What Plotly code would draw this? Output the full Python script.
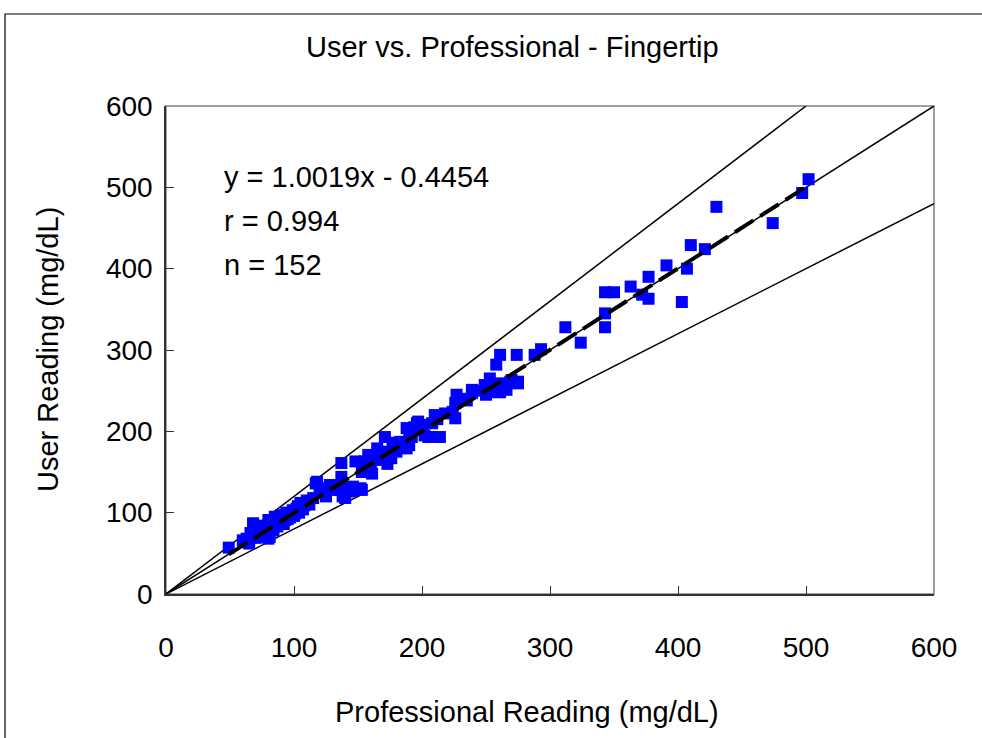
import plotly.graph_objects as go

# Professional (x) vs User (y) readings, mg/dL
prof = [49, 60, 62, 63, 65, 66, 68, 68, 70, 72, 73, 74, 75, 76, 77, 78, 80, 80, 81, 82,
        83, 84, 85, 86, 87, 88, 90, 91, 92, 93, 94, 95, 96, 97, 99, 100, 101, 102, 103, 104,
        105, 107, 108, 110, 110, 112, 115, 117, 118, 120, 122, 125, 128, 130, 133, 136, 137, 137, 138, 140,
        142, 144, 146, 148, 150, 152, 153, 153, 155, 156, 158, 160, 161, 163, 165, 166, 168, 170, 171, 171,
        173, 175, 176, 177, 178, 180, 183, 184, 185, 188, 188, 190, 190, 192, 194, 196, 197, 200, 202, 205,
        208, 210, 212, 214, 218, 224, 226, 226, 227, 230, 235, 239, 239, 245, 249, 250, 252, 253, 255, 258,
        258, 261, 261, 261, 263, 266, 269, 270, 274, 275, 275, 288, 293, 312, 324, 343, 343, 343, 350, 363,
        372, 377, 377, 391, 403, 407, 410, 421, 430, 474, 497, 502]
user = [57, 66, 64, 68, 62, 75, 87, 72, 69, 78, 80, 82, 72, 70, 84, 75, 91, 68, 70, 88,
        80, 78, 95, 85, 83, 90, 97, 88, 86, 91, 100, 92, 98, 94, 103, 96, 99, 105, 108, 100,
        112, 104, 109, 115, 112, 110, 118, 136, 138, 124, 130, 120, 134, 132, 128, 128, 144, 161, 120, 118,
        130, 126, 132, 163, 128, 130, 150, 128, 163, 160, 171, 157, 148, 165, 179, 170, 172, 165, 193, 175,
        160, 168, 167, 181, 186, 175, 187, 187, 180, 204, 179, 183, 200, 193, 205, 210, 212, 208, 195, 193,
        210, 220, 215, 193, 222, 224, 216, 235, 245, 240, 238, 251, 247, 250, 257, 245, 248, 265, 255, 282,
        252, 294, 259, 248, 255, 251, 261, 263, 294, 259, 261, 294, 301, 328, 309, 345, 328, 371, 371, 378,
        368, 363, 390, 404, 359, 400, 429, 424, 476, 456, 493, 510]

slope = 1.0019
intercept = -0.4454
r_value = 0.994
n_value = 152

axis_ticks = [0, 100, 200, 300, 400, 500, 600]

FONT = "Liberation Sans, Arial, sans-serif"
TXT = 29
TICK = 28

fig = go.Figure()

# reference lines: y = 1.2x, y = x, y = 0.8x
fig.add_trace(go.Scatter(x=[0, 500], y=[0, 1.2 * 500], mode="lines",
                         line=dict(color="black", width=1.5), hoverinfo="skip"))
fig.add_trace(go.Scatter(x=[0, 600], y=[0, 600], mode="lines",
                         line=dict(color="black", width=1.5), hoverinfo="skip"))
fig.add_trace(go.Scatter(x=[0, 600], y=[0, 0.8 * 600], mode="lines",
                         line=dict(color="black", width=1.5), hoverinfo="skip"))

# data
fig.add_trace(go.Scatter(x=prof, y=user, mode="markers",
                         marker=dict(symbol="square", size=12, color="#0000FF",
                                     line=dict(width=0))))

# regression line
rx = [min(prof), max(prof)]
ry = [slope * v + intercept for v in rx]
fig.add_trace(go.Scatter(x=rx, y=ry, mode="lines",
                         line=dict(color="black", width=4, dash="22px,8px"), hoverinfo="skip"))

fig.update_layout(
    width=982, height=738,
    margin=dict(l=166, r=48, t=106, b=144),
    paper_bgcolor="white", plot_bgcolor="white",
    showlegend=False,
    font=dict(family=FONT, color="black", size=TXT),
)

fig.update_xaxes(range=[0, 600], tickvals=axis_ticks, ticks="inside", ticklen=8,
                 tickcolor="#333333", showgrid=False, zeroline=False,
                 showline=True, linecolor="#333333", linewidth=1.5, mirror=False,
                 tickfont=dict(size=TICK), ticklabelstandoff=28)
fig.update_yaxes(range=[0, 600], tickvals=axis_ticks, ticks="inside", ticklen=8,
                 tickcolor="#333333", showgrid=False, zeroline=False,
                 showline=True, linecolor="#333333", linewidth=1.5, mirror=False,
                 tickfont=dict(size=TICK), ticklabelstandoff=6)

# gray plot border (top/right)
fig.add_shape(type="rect", xref="paper", yref="paper", x0=0, y0=0, x1=1, y1=1,
              line=dict(color="#808080", width=1.5), layer="below")
# outer chart frame
fig.add_shape(type="rect", xref="paper", yref="paper",
              x0=(5 - 166) / 768, x1=(1000 - 166) / 768,
              y0=(594 - 760) / 488, y1=(594 - 14) / 488,
              line=dict(color="black", width=1.2))

# titles
fig.add_annotation(text="User vs. Professional - Fingertip", xref="paper", yref="paper",
                   x=(512 - 166) / 768, y=(594 - 47) / 488, showarrow=False,
                   font=dict(size=TXT), xanchor="center", yanchor="middle")
fig.add_annotation(text="Professional Reading (mg/dL)", xref="paper", yref="paper",
                   x=(527 - 166) / 768, y=(594 - 712) / 488, showarrow=False,
                   font=dict(size=TXT), xanchor="center", yanchor="middle")
fig.add_annotation(text="User Reading (mg/dL)", xref="paper", yref="paper",
                   x=(48 - 166) / 768, y=0.5, showarrow=False, textangle=-90,
                   font=dict(size=TXT), xanchor="center", yanchor="middle")

# statistics text
stats = [f"y = {slope:.4f}x - {abs(intercept):.4f}", f"r = {r_value}", f"n = {n_value}"]
for i, s in enumerate(stats):
    fig.add_annotation(text=s, xref="paper", yref="paper",
                       x=(222 - 166) / 768, y=(594 - (177 + 44 * i)) / 488,
                       showarrow=False, xanchor="left", yanchor="middle",
                       font=dict(size=TXT))

fig.write_html("out.html")
